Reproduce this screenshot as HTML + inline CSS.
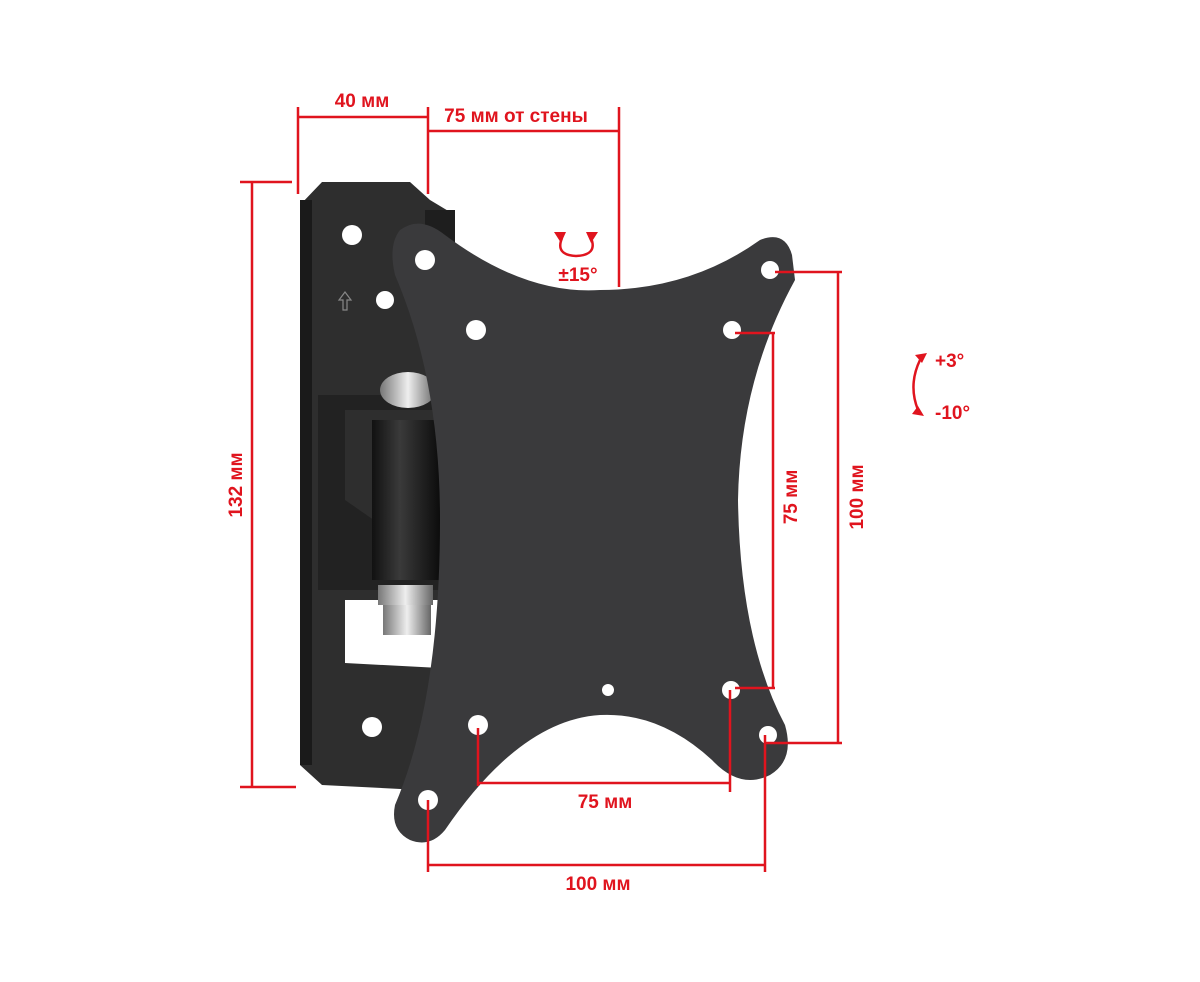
<!DOCTYPE html>
<html><head><meta charset="utf-8"><style>
html,body{margin:0;padding:0;background:#fff}
svg{display:block}
text{font-family:"Liberation Sans",sans-serif;font-weight:bold;fill:#e0141e;font-size:19px}
</style></head><body>
<svg width="1200" height="982" viewBox="0 0 1200 982" xmlns="http://www.w3.org/2000/svg">
<defs>
<linearGradient id="cyl" x1="0" x2="1"><stop offset="0" stop-color="#111"/><stop offset="0.4" stop-color="#3a3a3a"/><stop offset="1" stop-color="#0a0a0a"/></linearGradient>
<linearGradient id="nut" x1="0" x2="1"><stop offset="0" stop-color="#777"/><stop offset="0.5" stop-color="#eee"/><stop offset="1" stop-color="#666"/></linearGradient>
</defs>
<!-- wall plate -->
<path d="M322,182 L410,182 L430,200 L455,215 L455,770 L420,790 L322,785 L300,765 L300,205 Z" fill="#2e2e2e"/>
<rect x="300" y="200" width="12" height="565" fill="#1a1a1a"/>
<circle cx="352" cy="235" r="10" fill="#fff"/>
<circle cx="385" cy="300" r="9" fill="#fff"/>
<circle cx="372" cy="727" r="10" fill="#fff"/>
<path d="M345,292 l-6,8 h4 v10 h4 v-10 h4 z" fill="none" stroke="#888" stroke-width="1.2"/>
<!-- hinge brackets -->
<path d="M318,395 L460,395 L460,410 L345,410 L345,500 L460,580 L460,590 L318,590 Z" fill="#222"/>
<path d="M345,600 L440,600 L440,668 L345,663 Z" fill="#fff"/>
<rect x="425" y="210" width="30" height="120" fill="#1e1e1e"/>
<!-- pivot -->
<ellipse cx="408" cy="390" rx="28" ry="18" fill="url(#nut)"/>
<rect x="372" y="420" width="70" height="160" fill="url(#cyl)"/>
<rect x="378" y="585" width="55" height="20" fill="url(#nut)"/>
<rect x="383" y="605" width="48" height="30" fill="url(#nut)"/>
<!-- VESA plate -->
<path d="M400,230 Q420,215 445,235 Q525,295 600,290 Q690,290 760,240 Q785,230 792,255 L795,280 Q740,380 738,500 Q740,640 785,725 Q795,760 770,775 Q740,790 712,760 Q660,712 600,715 Q520,720 445,830 Q430,848 410,840 Q390,830 395,805 Q440,700 440,520 Q440,380 395,275 Q388,245 400,230 Z" fill="#3a3a3c"/>
<g fill="#fff">
<circle cx="425" cy="260" r="10"/><circle cx="770" cy="270" r="9"/>
<circle cx="476" cy="330" r="10"/><circle cx="732" cy="330" r="9"/>
<circle cx="731" cy="690" r="9"/><circle cx="478" cy="725" r="10"/>
<circle cx="768" cy="735" r="9"/><circle cx="428" cy="800" r="10"/>
<circle cx="608" cy="690" r="6"/>
</g>
<!-- dimensions -->
<g stroke="#e0141e" stroke-width="2.5" fill="none">
<path d="M298,107 V194 M428,107 V194 M619,107 V287 M298,117 H428 M428,131 H619"/>
<path d="M240,182 H292 M240,787 H296 M252,182 V787"/>
<path d="M775,272 H842 M765,743 H842 M838,272 V743"/>
<path d="M735,333 H775 M735,688 H775 M773,333 V688"/>
<path d="M478,728 V786 M730,690 V792 M478,783 H730"/>
<path d="M428,800 V872 M765,735 V872 M428,865 H765"/>
<path d="M562,238 Q555,255 576,256 Q598,255 591,238"/>
<path d="M920,360 Q908,385 918,410"/>
</g>
<g fill="#e0141e">
<path d="M554,232 l12,0 l-5,11 z"/><path d="M586,232 l12,0 l-7,11 z"/>
<path d="M915,355 l12,-2 l-5,10 z"/><path d="M912,414 l12,2 l-6,-10 z"/>
</g>
<g style="font-weight:600">
<text x="362" y="107" text-anchor="middle">40 мм</text>
<text x="516" y="122" text-anchor="middle">75 мм от стены</text>
<text x="578" y="281" text-anchor="middle">±15°</text>
<text x="935" y="367">+3°</text>
<text x="935" y="419">-10°</text>
<text x="605" y="808" text-anchor="middle">75 мм</text>
<text x="598" y="890" text-anchor="middle">100 мм</text>
<text transform="translate(242,485) rotate(-90)" text-anchor="middle">132 мм</text>
<text transform="translate(797,497) rotate(-90)" text-anchor="middle">75 мм</text>
<text transform="translate(863,497) rotate(-90)" text-anchor="middle">100 мм</text>
</g>
</svg>
</body></html>
